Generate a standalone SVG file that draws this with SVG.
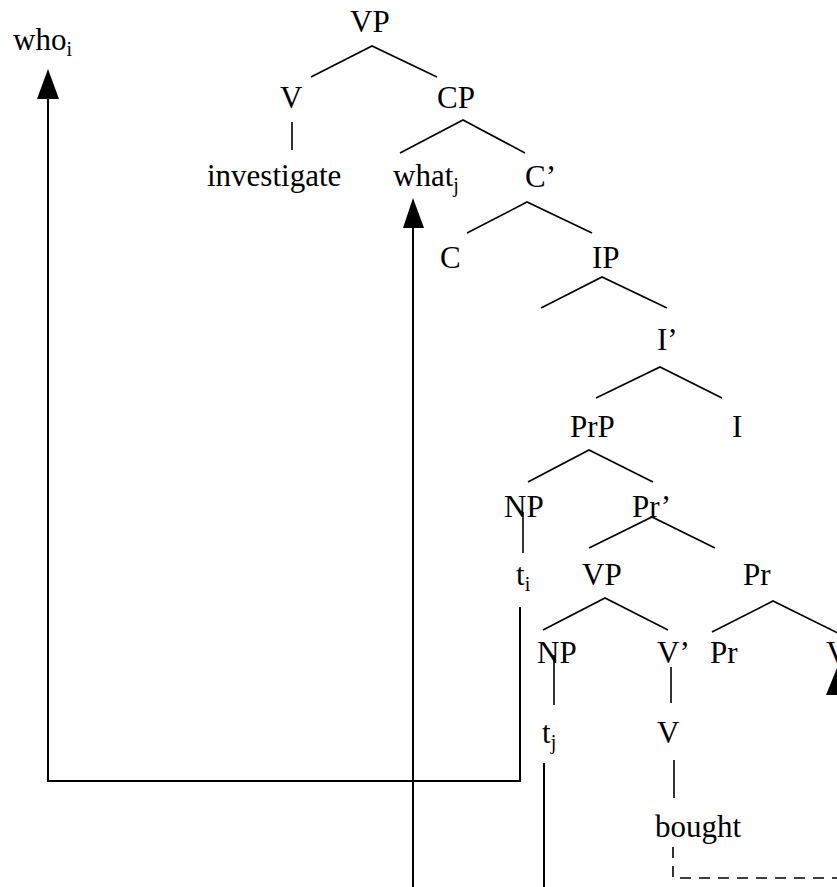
<svg xmlns="http://www.w3.org/2000/svg" width="837" height="887" viewBox="0 0 837 887">
<style>
text{font-family:"Liberation Serif","Times New Roman",serif;font-size:31px;fill:#000}
.sub{font-size:20px}
.t{stroke:#000;stroke-width:1.6;fill:none}
.a{stroke:#000;stroke-width:2;fill:none}
.d{stroke:#000;stroke-width:1.6;fill:none;stroke-dasharray:11 8}
</style>
<rect width="837" height="887" fill="#fff"/>
<g id="connectors">
<polyline class="t" points="311,77 372,46 437,77"/>
<line class="t" x1="292" y1="122" x2="292" y2="150"/>
<polyline class="t" points="400,153 463,120 525,153"/>
<polyline class="t" points="467,233 527,202 592,233"/>
<polyline class="t" points="541,308 602,277 667,308"/>
<polyline class="t" points="596,398 660,367 722,398"/>
<polyline class="t" points="528,482 589,450 653,482"/>
<line class="t" x1="523" y1="512" x2="523" y2="553"/>
<polyline class="t" points="589,548 652,517 715,548"/>
<polyline class="t" points="543,630 605,598 668,630"/>
<polyline class="t" points="712,632 773,601 840,634"/>
<line class="t" x1="554" y1="655" x2="554" y2="705"/>
<line class="t" x1="671" y1="667" x2="671" y2="703"/>
<line class="t" x1="674" y1="760" x2="674" y2="798"/>
<polyline class="a" points="520,607 520,781 48,781 48,98"/>
<polygon points="48,69 37,99 59,99" fill="#000"/>
<line class="a" x1="413" y1="226" x2="413" y2="887"/>
<polygon points="413,198 403,228 424,228" fill="#000"/>
<line class="a" x1="544" y1="763" x2="544" y2="887"/>
<polyline class="d" points="673,847 673,878 837,878"/>
<polygon points="837,668 826,695 848,695" fill="#000"/>
</g>
<g id="who"><text x="13" y="50">who<tspan class="sub" dy="6">i</tspan></text></g>
<g id="vp1"><text x="350" y="32">VP</text></g>
<g id="v1"><text x="280" y="108">V</text></g>
<g id="cp"><text x="437" y="108">CP</text></g>
<g id="investigate"><text x="207" y="186">investigate</text></g>
<g id="what"><text x="393" y="186">what<tspan class="sub" dy="6">j</tspan></text></g>
<g id="cbar"><text x="525" y="187">C’</text></g>
<g id="c"><text x="440" y="268">C</text></g>
<g id="ip"><text x="592" y="268">IP</text></g>
<g id="ibar"><text x="657" y="350">I’</text></g>
<g id="prp"><text x="570" y="437">PrP</text></g>
<g id="i"><text x="732" y="437">I</text></g>
<g id="np1"><text x="504" y="517">NP</text></g>
<g id="prbar"><text x="632" y="517">Pr’</text></g>
<g id="ti"><text x="516" y="585">t<tspan class="sub" dy="6">i</tspan></text></g>
<g id="vp2"><text x="582" y="585">VP</text></g>
<g id="pr1"><text x="743" y="585">Pr</text></g>
<g id="np2"><text x="537" y="663">NP</text></g>
<g id="vbar"><text x="657" y="663">V’</text></g>
<g id="pr2"><text x="710" y="663">Pr</text></g>
<g id="v3"><text x="826" y="663">V</text></g>
<g id="tj"><text x="542" y="743">t<tspan class="sub" dy="6">j</tspan></text></g>
<g id="v2"><text x="657" y="743">V</text></g>
<g id="bought"><text x="655" y="837">bought</text></g>
</svg>
